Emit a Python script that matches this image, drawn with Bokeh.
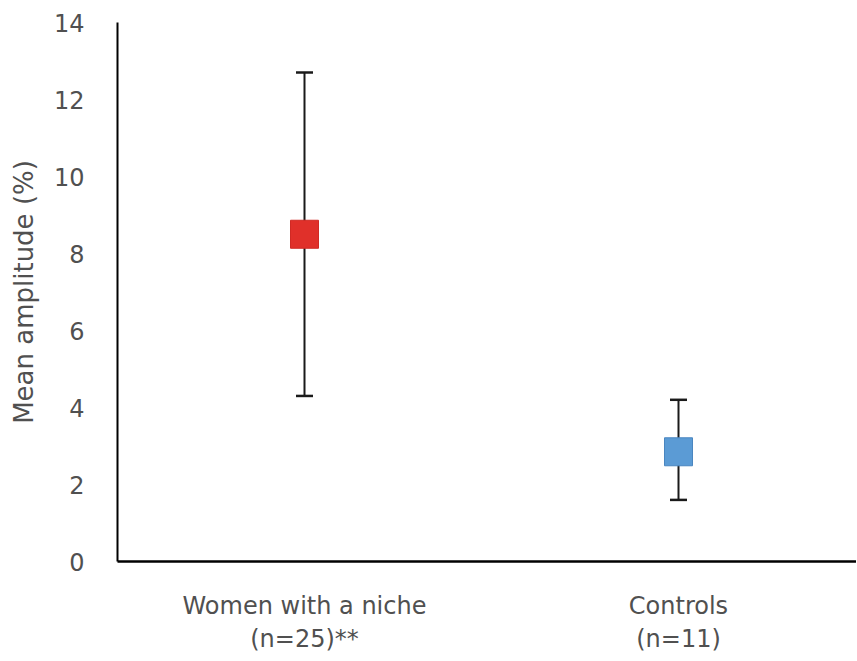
from bokeh.plotting import figure
from bokeh.models import ColumnDataSource, Range1d, FixedTicker
from bokeh.embed import file_html
from bokeh.resources import INLINE

# Data
categories = ["Women with a niche\n(n=25)**", "Controls\n(n=11)"]
positions = [1, 2]
means = [8.5, 2.85]
upper = [12.7, 4.2]
lower = [4.3, 1.6]
colors = ["#E0302A", "#5B9BD5"]
border_colors = ["#D02A24", "#4A86C0"]
y_ticks = [0, 2, 4, 6, 8, 10, 12, 14]

src = ColumnDataSource(dict(x=positions, mean=means, upper=upper, lower=lower,
                            color=colors, border=border_colors))

p = figure(output_backend="svg", toolbar_location=None,
           frame_width=739, frame_height=539,
           x_range=Range1d(0.5, 0.5 + 739 / 374), y_range=Range1d(0, 14))
p.min_border_left = 117
p.min_border_right = 0
p.min_border_top = 22
p.min_border_bottom = 92
p.outline_line_color = None
p.xgrid.grid_line_color = None
p.ygrid.grid_line_color = None
p.background_fill_color = "white"
p.border_fill_color = "white"

font = "DejaVu Sans"
txt = "#505050"

# error bars
p.segment(x0="x", y0="lower", x1="x", y1="upper", source=src,
          line_color="#1a1a1a", line_width=2)
p.scatter(x="x", y="upper", source=src, marker="dash", size=17,
          line_color="#1a1a1a", line_width=2.5)
p.scatter(x="x", y="lower", source=src, marker="dash", size=17,
          line_color="#1a1a1a", line_width=2.5)
# markers
p.scatter(x="x", y="mean", source=src, marker="square", size=28,
          fill_color="color", line_color="border", line_width=1)

# y axis
ya = p.yaxis[0]
ya.ticker = FixedTicker(ticks=y_ticks)
ya.axis_label = "Mean amplitude (%)"
ya.axis_label_text_font = font
ya.axis_label_text_font_size = "26px"
ya.axis_label_text_font_style = "normal"
ya.axis_label_text_color = txt
ya.axis_label_standoff = 12
ya.major_label_text_font = font
ya.major_label_text_font_size = "24px"
ya.major_label_text_color = txt
ya.major_label_standoff = 27
ya.major_tick_line_color = None
ya.minor_tick_line_color = None
ya.axis_line_color = "black"
ya.axis_line_width = 2

# x axis
xa = p.xaxis[0]
xa.ticker = FixedTicker(ticks=positions)
xa.major_label_overrides = {pos: lab for pos, lab in zip(positions, categories)}
xa.major_label_text_font = font
xa.major_label_text_font_size = "24px"
xa.major_label_text_line_height = 1.2
xa.major_label_text_color = txt
xa.major_label_standoff = 24
xa.major_tick_line_color = None
xa.minor_tick_line_color = None
xa.axis_line_color = "black"
xa.axis_line_width = 2.5

open("out.html", "w").write(file_html(p, INLINE))
